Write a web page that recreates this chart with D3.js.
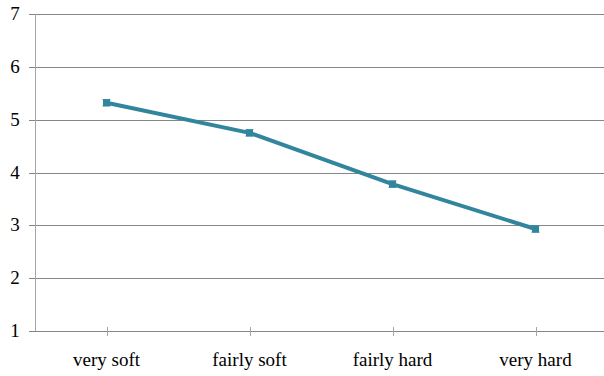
<!DOCTYPE html>
<html><head><meta charset="utf-8">
<script src="https://cdn.jsdelivr.net/npm/d3@7"></script>
<style>body{margin:0;background:#fff}svg{display:block}
text{font-family:"Liberation Serif","Times New Roman","DejaVu Serif",serif;font-size:19px;fill:#000}</style>
</head><body>
<script>
const categories = ["very soft", "fairly soft", "fairly hard", "very hard"];
const values = [5.32, 4.75, 3.78, 2.93];
const errors = [0.06, 0.06, 0.06, 0.06];
const yTicks = [1, 2, 3, 4, 5, 6, 7];

const W = 604, H = 376;
const m = {left: 35, right: -3, top: 14, bottom: 45};
const svg = d3.select("body").append("svg").attr("width", W).attr("height", H);
const x = d3.scaleBand().domain(categories).range([m.left, W - m.right]);
const y = d3.scaleLinear().domain([1, 7]).range([H - m.bottom, m.top]);

// gridlines
svg.append("g").selectAll("line").data(yTicks).join("line")
  .attr("x1", m.left - 6).attr("x2", W - m.right)
  .attr("y1", d => Math.round(y(d)) + 0.5).attr("y2", d => Math.round(y(d)) + 0.5)
  .attr("stroke", "#868686").attr("stroke-width", 1);

// y axis line
svg.append("line").attr("x1", m.left + 0.5).attr("x2", m.left + 0.5)
  .attr("y1", y(7)).attr("y2", y(1)).attr("stroke", "#a6a6a6");

// y labels
svg.append("g").selectAll("text").data(yTicks).join("text")
  .attr("x", 15).attr("y", d => y(d) + 6).attr("text-anchor", "middle").text(d => d);

// x ticks
svg.append("g").selectAll("line").data(categories).join("line")
  .attr("x1", d => Math.round(x(d) + x.bandwidth() / 2) + 0.5)
  .attr("x2", d => Math.round(x(d) + x.bandwidth() / 2) + 0.5)
  .attr("y1", y(1) - 4).attr("y2", y(1) + 5).attr("stroke", "#a6a6a6");

// x labels
svg.append("g").selectAll("text").data(categories).join("text")
  .attr("x", d => x(d) + x.bandwidth() / 2).attr("y", 366).attr("text-anchor", "middle").text(d => d);

const cx = (d, i) => x(categories[i]) + x.bandwidth() / 2;
const color = "#31859c";

// line
svg.append("path").datum(values)
  .attr("d", d3.line().x((d, i) => cx(d, i)).y(d => y(d)))
  .attr("fill", "none").attr("stroke", color).attr("stroke-width", 4).attr("stroke-linejoin", "round");

// error bars
const eb = svg.append("g").attr("stroke", "#4a90b0").attr("stroke-width", 1);
values.forEach((v, i) => {
  const px = cx(v, i);
  eb.append("line").attr("x1", px).attr("x2", px).attr("y1", y(v + errors[i])).attr("y2", y(v - errors[i]));
  eb.append("line").attr("x1", px - 4).attr("x2", px + 4).attr("y1", y(v + errors[i])).attr("y2", y(v + errors[i]));
  eb.append("line").attr("x1", px - 4).attr("x2", px + 4).attr("y1", y(v - errors[i])).attr("y2", y(v - errors[i]));
});

// markers
svg.append("g").selectAll("rect").data(values).join("rect")
  .attr("x", (d, i) => cx(d, i) - 3.5).attr("y", d => y(d) - 3.5)
  .attr("width", 7).attr("height", 7).attr("fill", color);
</script>
</body></html>
